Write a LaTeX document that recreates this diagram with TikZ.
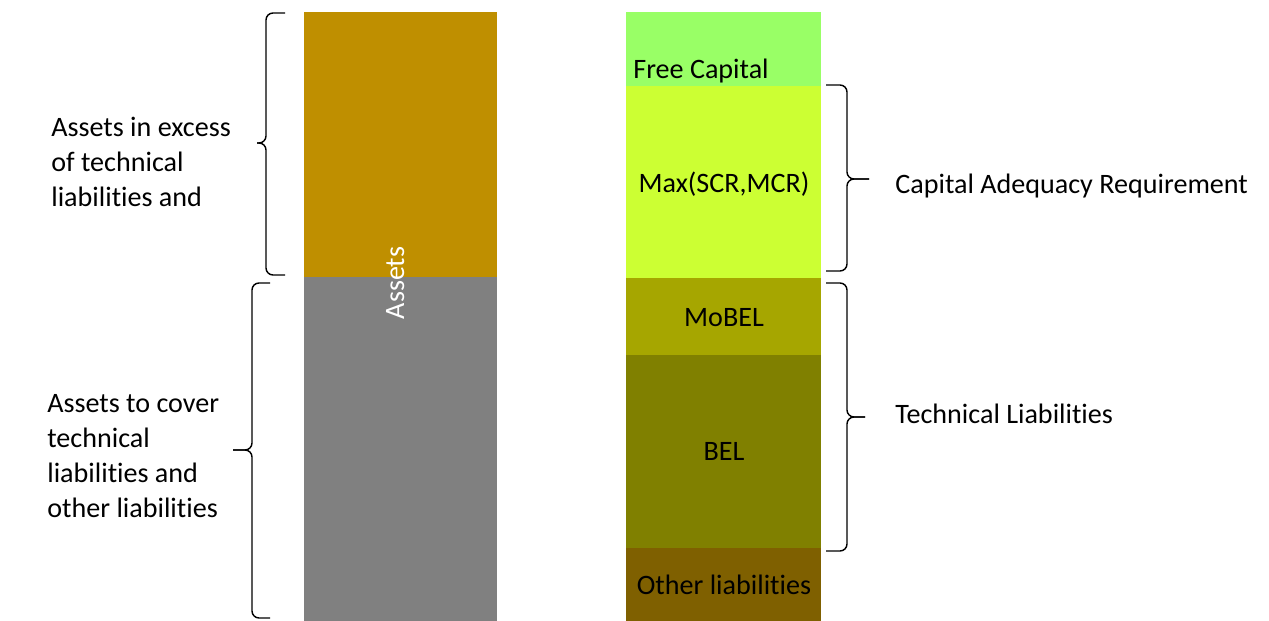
\documentclass[tikz,border=0pt]{standalone}
\usepackage{fontspec}
\setmainfont{Carlito}[Ligatures=NoCommon]

\definecolor{assetgold}{RGB}{191,143,0}
\definecolor{assetgray}{RGB}{128,128,128}
\definecolor{freegreen}{RGB}{153,255,102}
\definecolor{scrlime}{RGB}{204,255,51}
\definecolor{mobelolive}{RGB}{166,166,0}
\definecolor{belolive}{RGB}{128,128,0}
\definecolor{otherbrown}{RGB}{127,96,0}

\tikzset{
  txt/.style={inner sep=0pt, font=\fontsize{16}{20}\selectfont},
  brc/.style={draw=black, line width=0.8pt, rounded corners=4pt},
}

\begin{document}
\begin{tikzpicture}[x=0.02cm, y=-0.02cm]
        \useasboundingbox (0,0) rectangle (1269,621);

        \fill[assetgold] (304,12) rectangle (497,277);
        \fill[assetgray] (304,277) rectangle (497,621);
        \fill[freegreen] (626,12) rectangle (821,86);
        \fill[scrlime] (626,86) rectangle (821,278);
        \fill[mobelolive] (626,278) rectangle (821,355);
        \fill[belolive] (626,355) rectangle (821,548);
        \fill[otherbrown] (626,548) rectangle (821,621);

        \node[txt, text=white, rotate=90, anchor=base] (assets) at (404,283) {Assets};
        \node[txt, anchor=base west] (free) at (633,79) {Free Capital};
        \node[txt, anchor=base] (maxreq) at (724,193) {Max(SCR,MCR)};
        \node[txt, anchor=base] (mobel) at (724,327) {MoBEL};
        \node[txt, anchor=base] (bel) at (724,461) {BEL};
        \node[txt, anchor=base] (other) at (724,595) {Other liabilities};

        \node[txt, anchor=base west] (car) at (895,194) {Capital Adequacy Requirement};
        \node[txt, anchor=base west] (techliab) at (895,424) {Technical Liabilities};
        \node[txt, align=left, anchor=base west] (excess) at (51,207) {Assets in excess\\of technical\\liabilities and};
        \node[txt, align=left, anchor=base west] (cover) at (47,518) {Assets to cover\\technical\\liabilities and\\other liabilities};

        \coordinate (excesstop) at (285,13);
        \coordinate (excesstip) at (257,143);
        \coordinate (excessbot) at (285,275);
        \coordinate (covertop) at (270,283);
        \coordinate (covertip) at (233,450);
        \coordinate (coverbot) at (270,618);
        \coordinate (cartop) at (826,85);
        \coordinate (cartip) at (869,179);
        \coordinate (carbot) at (826,271);
        \coordinate (techtop) at (826,283);
        \coordinate (techtip) at (865,417);
        \coordinate (techbot) at (826,551);

        \path[brc] (excesstop) -| (266,143) -- (excesstip);
        \path[brc] (excesstip) -| (266,275) -- (excessbot);
        \path[brc] (covertop) -| (252,450) -- (covertip);
        \path[brc] (covertip) -| (252,618) -- (coverbot);
        \path[brc] (cartop) -| (847,179) -- (cartip);
        \path[brc] (cartip) -| (847,271) -- (carbot);
        \path[brc] (techtop) -| (847,417) -- (techtip);
        \path[brc] (techtip) -| (847,551) -- (techbot);
    \end{tikzpicture}
\end{document}
